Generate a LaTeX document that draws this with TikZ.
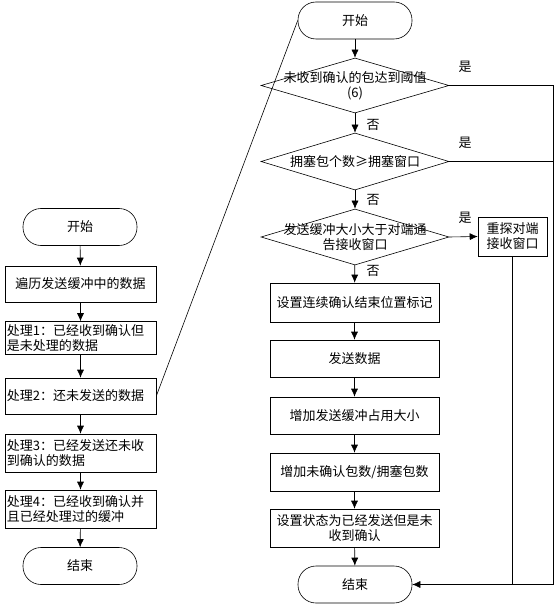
\documentclass[tikz,border=0pt]{standalone}
\usepackage{fontspec}
\setmainfont{Noto Sans CJK SC}
\usetikzlibrary{arrows.meta,shapes.geometric}
\begin{document}
\begin{tikzpicture}[x=1bp,y=-1bp,
  font=\fontsize{13bp}{15bp}\selectfont,
  line width=0.6bp,
  every node/.style={inner sep=1bp},
  term/.style={draw, rounded corners=18bp, minimum width=114bp, minimum height=37bp},
  lbox/.style={draw, minimum width=151bp, minimum height=36bp, align=center},
  lboxl/.style={draw, minimum width=151bp, minimum height=36bp, text width=147bp, inner xsep=2bp, align=left},
  rbox/.style={draw, minimum width=169bp, minimum height=38bp, align=center},
  dia/.style={draw, diamond, minimum width=188bp, minimum height=56bp, inner sep=0bp},
  dtext/.style={align=center},
  arr/.style={-{Latex[length=8bp,width=7bp]}},
  lbl/.style={inner sep=0bp}
]
\useasboundingbox (0,0) rectangle (555,605);

% left column
\node[term] (ls) at (80,227) {开始};
\node[lbox] (l1) at (80.5,284) {遍历发送缓冲中的数据};
\node[lboxl,minimum height=33bp] (l2) at (80.5,338) {处理1：已经收到确认但\\是未处理的数据};
\node[lboxl] (l3) at (80.5,396) {处理2：还未发送的数据};
\node[lboxl,minimum height=38bp] (l4) at (80.5,453) {处理3：已经发送还未收\\到确认的数据};
\node[lboxl,minimum height=38bp] (l5) at (80.5,509) {处理4：已经收到确认并\\且已经处理过的缓冲};
\node[term] (le) at (80,566) {结束};

\draw[arr] (ls) -- (l1);
\draw[arr] (l1) -- (l2);
\draw[arr] (l2) -- (l3);
\draw[arr] (l3) -- (l4);
\draw[arr] (l4) -- (l5);
\draw[arr] (l5) -- (le);

% right column
\node[term] (rs) at (355,20.5) {开始};
\node[dia,minimum height=55bp] (d1) at (355,85.5) {};
\node[dtext] (d1t) at (355,86) {未收到确认的包达到阈值\\(6)};
\node[dia,minimum height=57bp] (d2) at (355,161.5) {};
\node[dtext] (d2t) at (355,161.5) {拥塞包个数≥拥塞窗口};
\node[dia] (d3) at (355,237) {};
\node[dtext] (d3t) at (355,237) {发送缓冲大小大于对端通\\告接收窗口};
\node[draw, minimum width=69bp, minimum height=39bp, align=center] (probe) at (512.5,236.5) {重探对端\\接收窗口};

\node[rbox,minimum height=39bp] (r1) at (354.5,302.5) {设置连续确认结束位置标记};
\node[rbox,minimum height=37bp] (r2) at (354.5,358.5) {发送数据};
\node[rbox,minimum height=37bp] (r3) at (354.5,415.5) {增加发送缓冲占用大小};
\node[rbox] (r4) at (354.5,472) {增加未确认包数/拥塞包数};
\node[rbox] (r5) at (354.5,528) {设置状态为已经发送但是未\\收到确认};
\node[term] (re) at (355,584.5) {结束};

\coordinate (rx) at (553,0);

\draw (l3.east) -- (rs.west);

\draw[arr] (rs) -- (d1);
\draw[arr] (d1) -- (d2);
\draw[arr] (d2) -- (d3);
\draw[arr] (d3) -- (r1);
\draw[arr] (d3.east) -- (probe.west);
\draw[arr] (r1) -- (r2);
\draw[arr] (r2) -- (r3);
\draw[arr] (r3) -- (r4);
\draw[arr] (r4) -- (r5);
\draw[arr] (r5) -- (re);

\draw (d1.east) -- (d1.east -| rx) -- (re.east -| rx);
\draw (d2.east) -- (d2.east -| rx);
\draw (probe.south) -- (probe.south |- re.east);
\draw[arr] (re.east -| rx) -- (re.east);

\node[lbl] (y1) at (465,67) {是};
\node[lbl] (y2) at (465,143) {是};
\node[lbl] (y3) at (465,218) {是};
\node[lbl] (n1) at (373,125) {否};
\node[lbl] (n2) at (373,200) {否};
\node[lbl] (n3) at (373,271) {否};
\end{tikzpicture}
\end{document}
